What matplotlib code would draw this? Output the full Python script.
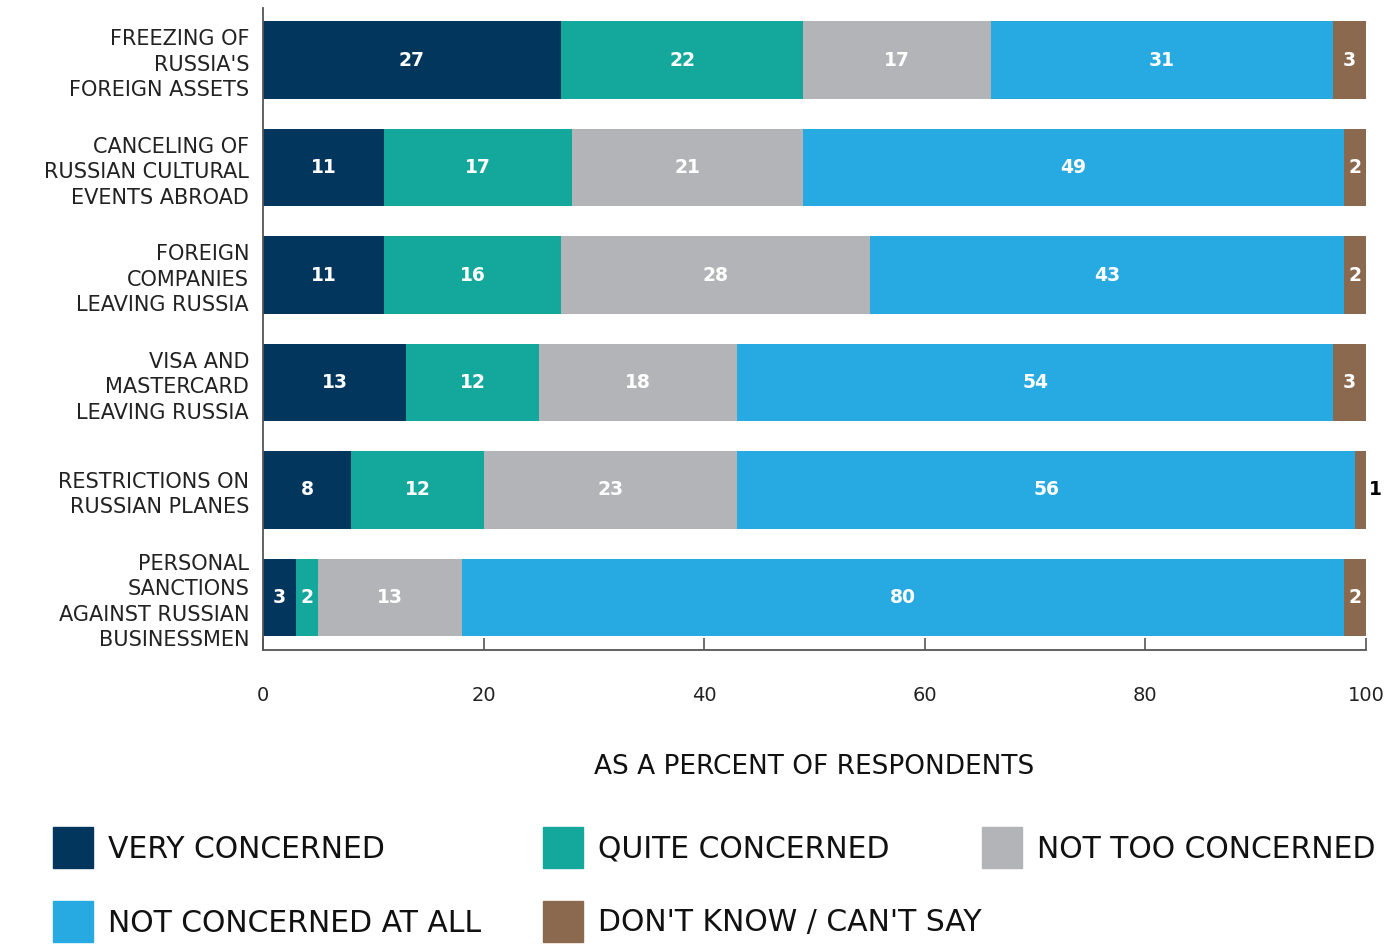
import numpy as np
import matplotlib.pyplot as plt
from matplotlib.patches import Rectangle

plt.rcParams['font.family'] = ['DejaVu Sans']

categories = ["FREEZING OF\nRUSSIA'S\nFOREIGN ASSETS",
              "CANCELING OF\nRUSSIAN CULTURAL\nEVENTS ABROAD",
              "FOREIGN\nCOMPANIES\nLEAVING RUSSIA",
              "VISA AND\nMASTERCARD\nLEAVING RUSSIA",
              "RESTRICTIONS ON\nRUSSIAN PLANES",
              "PERSONAL\nSANCTIONS\nAGAINST RUSSIAN\nBUSINESSMEN"]
series = ["VERY CONCERNED", "QUITE CONCERNED", "NOT TOO CONCERNED",
          "NOT CONCERNED AT ALL", "DON'T KNOW / CAN'T SAY"]
very = [27, 11, 11, 13, 8, 3]
quite = [22, 17, 16, 12, 12, 2]
not_too = [17, 21, 28, 18, 23, 13]
not_at_all = [31, 49, 43, 54, 56, 80]
dont_know = [3, 2, 2, 3, 1, 2]
colors = ['#03365c', '#14a79c', '#b3b4b8', '#27a9e1', '#8b694e']

values = [very, quite, not_too, not_at_all, dont_know]

fig = plt.figure(figsize=(13.91, 9.44), dpi=100)
ax = fig.add_axes([263 / 1391, 1 - 650 / 944, 1103 / 1391, 642 / 944])

y = np.arange(len(categories))
left = np.zeros(len(categories))
for vals, col, name in zip(values, colors, series):
    vals = np.array(vals, dtype=float)
    bars = ax.barh(y, vals, left=left, height=0.72, color=col, label=name)
    for b, v in zip(bars, vals):
        cx = b.get_x() + b.get_width() / 2
        cy = b.get_y() + b.get_height() / 2
        if v < 1.5:
            # too thin for the number, put it just outside
            ax.text(b.get_x() + b.get_width() + 0.3, cy, '%d' % v,
                    ha='left', va='center', color='black',
                    fontsize=13.5, fontweight='bold')
        else:
            ax.text(cx, cy, '%d' % v, ha='center', va='center', color='white',
                    fontsize=13.5, fontweight='bold')
    left += vals

ax.set_xlim(0, 100)
ax.set_ylim(5.49, -0.485)
ax.set_yticks(y)
ax.set_yticklabels(categories, fontsize=15, linespacing=1.34, color='#222222')
ax.tick_params(axis='y', length=0, pad=10)
ax.set_xticks(np.arange(0, 101, 20))
ax.tick_params(axis='x', direction='in', length=9, width=1.2, color='#555555',
               pad=26, labelsize=14, labelcolor='#222222')
ax.spines['top'].set_visible(False)
ax.spines['right'].set_visible(False)
for s in ['left', 'bottom']:
    ax.spines[s].set_color('#555555')
    ax.spines[s].set_linewidth(1.3)
ax.set_xlabel('AS A PERCENT OF RESPONDENTS', fontsize=19,
              labelpad=35, color='#111111')

# legend laid out by hand, two rows
legend_pos = [(53, 848), (543, 848), (982, 848), (53, 922), (543, 922)]
for (px, py), col, name in zip(legend_pos, colors, series):
    fig.add_artist(Rectangle((px / 1391, 1 - (py + 20) / 944), 40 / 1391, 41 / 944,
                             transform=fig.transFigure, color=col))
    fig.text((px + 55) / 1391, 1 - (py + 1) / 944, name, fontsize=21.5,
             va='center', ha='left', color='#111111')

plt.savefig('out.png', dpi=100)
